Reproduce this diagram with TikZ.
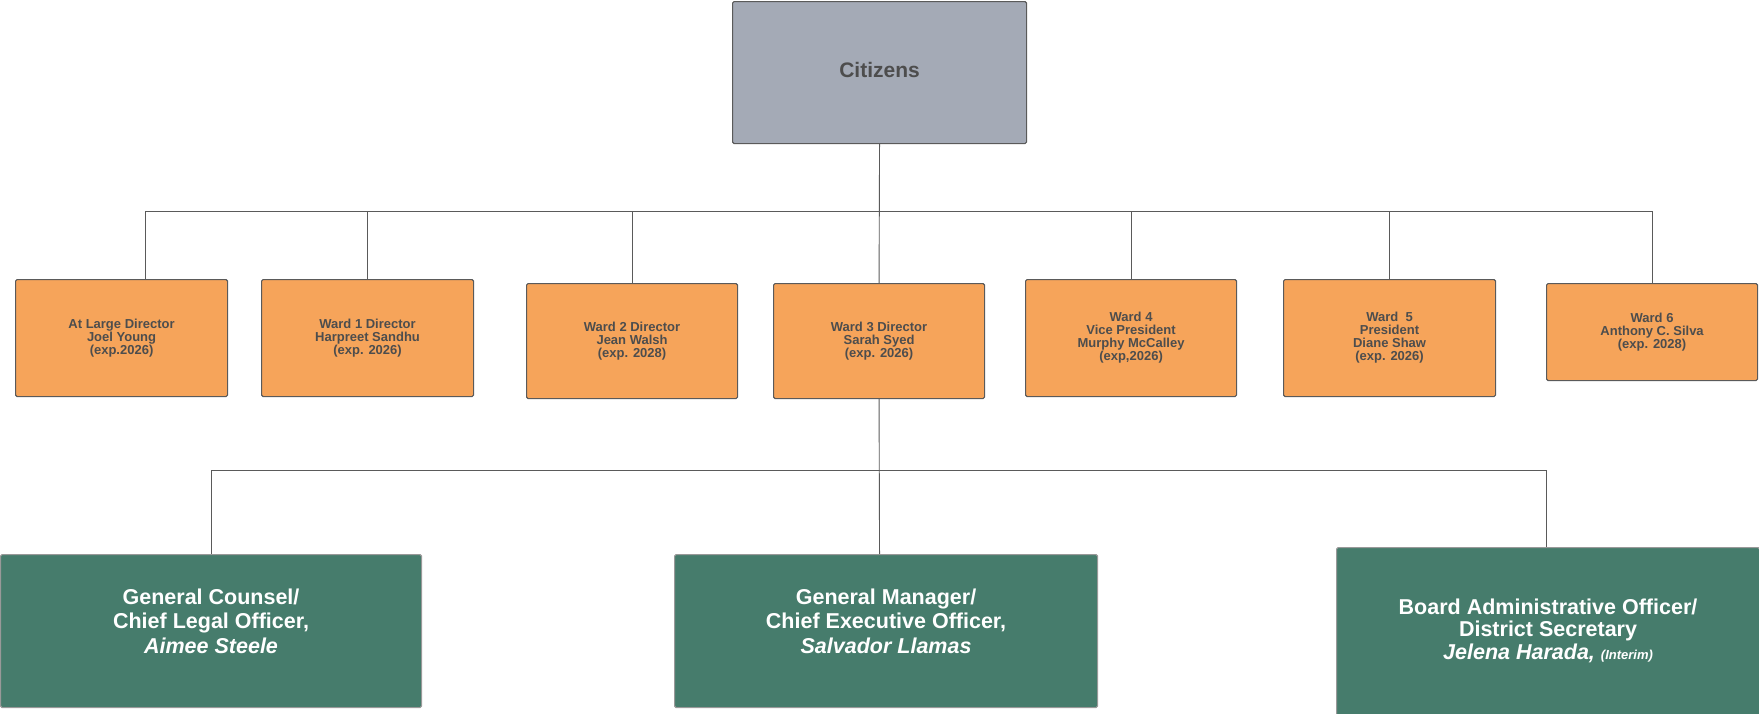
\documentclass[tikz,border=0pt]{standalone}
\usepackage{fontspec}
\setmainfont{Liberation Sans}
\definecolor{citgray}{HTML}{A4AAB6}
\definecolor{wardorange}{HTML}{F6A45A}
\definecolor{staffgreen}{HTML}{467C6C}
\definecolor{edgegray}{HTML}{5A5A5A}
\definecolor{txtgray}{HTML}{4D4D4D}
\tikzset{
  orgbox/.style={draw=edgegray, line width=1.1pt, rounded corners=1.5pt,
    anchor=north west, align=center, inner sep=0pt},
  citbox/.style={orgbox, fill=citgray},
  cittext/.style={text=txtgray, font=\bfseries\fontsize{21}{24}\selectfont},
  wardbox/.style={orgbox, fill=wardorange, text=txtgray,
    font=\bfseries\fontsize{13}{13}\selectfont},
  staffbox/.style={orgbox, draw=gray!80, fill=staffgreen},
  stafftext/.style={align=center, text=white,
    font=\bfseries\fontsize{21.5}{24.5}\selectfont},
  link/.style={draw=edgegray, line width=0.9pt},
}
\begin{document}
\begin{tikzpicture}[x=1pt, y=-1pt]
\useasboundingbox (0,0) rectangle (1759,713);

% top level
\node[citbox, minimum width=294pt, minimum height=142pt] (cit) at (732,1) {};
\node[cittext] (citlbl) at ([yshift=3pt]cit.center) {Citizens};

% board of directors
\node[wardbox, minimum width=212pt, minimum height=117pt] (w1) at (15,279)
  {At Large Director\\Joel Young\\(exp.2026)};
\node[wardbox, minimum width=212pt, minimum height=117pt] (w2) at (261,279)
  {Ward 1 Director\\Harpreet Sandhu\\(exp. 2026)};
\node[wardbox, minimum width=211pt, minimum height=115pt] (w3) at (526,283)
  {Ward 2 Director\\Jean Walsh\\(exp. 2028)};
\node[wardbox, minimum width=211pt, minimum height=115pt] (w4) at (773,283)
  {Ward 3 Director\\Sarah Syed\\(exp. 2026)};
\node[wardbox, minimum width=211pt, minimum height=117pt] (w5) at (1025,279)
  {Ward 4\\Vice President\\Murphy McCalley\\(exp,2026)};
\node[wardbox, minimum width=212pt, minimum height=117pt] (w6) at (1283,279)
  {Ward\ \ 5\\President\\Diane Shaw\\(exp. 2026)};
\node[wardbox, minimum width=211pt, minimum height=97pt] (w7) at (1546,283)
  {Ward 6\\Anthony C. Silva\\(exp. 2028)};

% staff reporting to the board
\node[staffbox, minimum width=421pt, minimum height=153pt] (g1) at (0,554) {};
\node[stafftext] (g1lbl) at ([yshift=10pt]g1.center)
  {General Counsel/\\Chief Legal Officer,\\\textit{Aimee Steele}};
\node[staffbox, minimum width=423pt, minimum height=153pt] (g2) at (674,554) {};
\node[stafftext] (g2lbl) at ([yshift=10pt]g2.center)
  {General Manager/\\Chief Executive Officer,\\\textit{Salvador Llamas}};
\node[staffbox, minimum width=423pt, minimum height=170pt] (g3) at (1336,547) {};
\node[stafftext, font=\bfseries\fontsize{21.5}{22.5}\selectfont] (g3lbl)
  at ([yshift=2pt]g3.center)
  {Board Administrative Officer/\\District Secretary\\\textit{Jelena Harada,}
   {\fontsize{13}{14}\selectfont\textit{(Interim)}}};

% connectors: citizens to directors
\coordinate (bus1) at (879,211);
\draw[link] (cit.south) -- (w4.north);
\draw[link] ([xshift=24pt]w1.north) |- (bus1);
\draw[link] (w2.north) |- (bus1);
\draw[link] (w3.north) |- (bus1);
\draw[link] (w5.north) |- (bus1);
\draw[link] (w6.north) |- (bus1);
\draw[link] (w7.north) |- (bus1);

% connectors: board to staff
\coordinate (bus2) at (879,470);
\draw[link] (w4.south) -- ([xshift=-6.5pt]g2.north);
\draw[link] (g1.north) |- (bus2);
\draw[link] ([xshift=-1.5pt]g3.north) |- (bus2);
\end{tikzpicture}
\end{document}
